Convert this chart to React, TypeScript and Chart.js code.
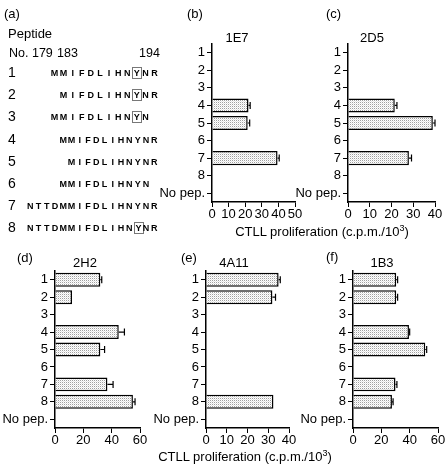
import React, { useEffect, useRef } from "react";
import { Chart, registerables } from "chart.js";
Chart.register(...registerables);

// ---------- data ----------
const categories = ["1", "2", "3", "4", "5", "6", "7", "8", "No pep."];

const values1E7 = [0, 0, 0, 22, 21.5, 0, 39.5, 0, 0];
const errors1E7 = [0, 0, 0, 1, 1.2, 0, 1, 0, 0];
const ticks1E7 = [0, 10, 20, 30, 40, 50];

const values2D5 = [0, 0, 0, 21.5, 39, 0, 28, 0, 0];
const errors2D5 = [0, 0, 0, 1, 1, 0, 1.2, 0, 0];
const ticks2D5 = [0, 10, 20, 30, 40];

const values2H2 = [32, 12, 0, 45, 32, 0, 37, 55, 0];
const errors2H2 = [1, 0, 0, 4, 3, 0, 4, 1.5, 0];
const ticks2H2 = [0, 20, 40, 60];

const values4A11 = [35, 32, 0, 0, 0, 0, 0, 32.5, 0];
const errors4A11 = [0.8, 1.5, 0, 0, 0, 0, 0, 0, 0];
const ticks4A11 = [0, 10, 20, 30, 40];

const values1B3 = [30.5, 30.5, 0, 39.5, 51, 0, 30, 27.5, 0];
const errors1B3 = [1, 1, 0, 0.5, 1, 0, 1, 0.8, 0];
const ticks1B3 = [0, 20, 40, 60];

const peptideNumbers = ["1", "2", "3", "4", "5", "6", "7", "8"];
const peptideSequences = [
  "MMIFDLIHN[Y]NR",
  "MIFDLIHN[Y]NR",
  "MMIFDLIHN[Y]N",
  "MMIFDLIHNYNR",
  "MIFDLIHNYNR",
  "MMIFDLIHNYN",
  "NTTDMMIFDLIHNYNR",
  "NTTDMMIFDLIHN[Y]NR",
];
const peptideStarts = [183, 184, 183, 183, 184, 183, 179, 179];
const residueLabels = ["No. 179", "183", "194"];
const axisTitle = "CTLL proliferation (c.p.m./10";
const axisTitleSup = "3";

// ---------- layout ----------
const W = 448;
const H = 464;
const FONT = "'Liberation Sans', Arial, Helvetica, sans-serif";
const Y_AXIS_W = 55;
const X_AXIS_H = 30;

const panels = [
  { label: "(b)", title: "1E7", values: values1E7, errors: errors1E7, ticks: ticks1E7,
    area: { left: 212, right: 295, top: 44, bottom: 202 }, labelPos: [187, 13], titlePos: [237, 37] },
  { label: "(c)", title: "2D5", values: values2D5, errors: errors2D5, ticks: ticks2D5,
    area: { left: 348, right: 435, top: 44, bottom: 202 }, labelPos: [326, 13], titlePos: [372, 37] },
  { label: "(d)", title: "2H2", values: values2H2, errors: errors2H2, ticks: ticks2H2,
    area: { left: 55, right: 140, top: 271, bottom: 428 }, labelPos: [17, 257], titlePos: [85, 262] },
  { label: "(e)", title: "4A11", values: values4A11, errors: errors4A11, ticks: ticks4A11,
    area: { left: 206, right: 289, top: 271, bottom: 428 }, labelPos: [181, 257], titlePos: [234, 262] },
  { label: "(f)", title: "1B3", values: values1B3, errors: errors1B3, ticks: ticks1B3,
    area: { left: 353, right: 438, top: 271, bottom: 428 }, labelPos: [326, 256], titlePos: [382, 262] },
];

function makeStipple(ctx: CanvasRenderingContext2D) {
  const c = document.createElement("canvas");
  c.width = 2;
  c.height = 2;
  const g = c.getContext("2d")!;
  g.fillStyle = "#ffffff";
  g.fillRect(0, 0, 2, 2);
  g.fillStyle = "#a0a0a0";
  g.fillRect(0, 0, 1, 1);
  g.fillStyle = "#e4e4e4";
  g.fillRect(1, 1, 1, 1);
  return ctx.createPattern(c, "repeat");
}

const errorBarPlugin = {
  id: "errorBars",
  afterDatasetsDraw(chart: any, _args: any, opts: any) {
    const errs: number[] = opts.errors || [];
    const meta = chart.getDatasetMeta(0);
    const xs = chart.scales.x;
    const data = chart.data.datasets[0].data;
    const ctx = chart.ctx;
    ctx.save();
    ctx.strokeStyle = "#000";
    ctx.lineWidth = 1.2;
    meta.data.forEach((bar: any, i: number) => {
      const e = errs[i];
      if (!e) return;
      const v = data[i];
      const x0 = xs.getPixelForValue(v);
      const x1 = xs.getPixelForValue(v + e);
      const y = bar.y;
      const h = 3.5;
      ctx.beginPath();
      ctx.moveTo(x0, y);
      ctx.lineTo(x1, y);
      ctx.moveTo(x1, y - h);
      ctx.lineTo(x1, y + h);
      ctx.stroke();
    });
    ctx.restore();
  },
};

function BarPanel({ values, errors, ticks, area }: any) {
  const ref = useRef<HTMLCanvasElement>(null);
  useEffect(() => {
    const canvas = ref.current!;
    const ctx = canvas.getContext("2d")!;
    const pattern = makeStipple(ctx);
    const chart = new Chart(canvas, {
      type: "bar",
      data: {
        labels: categories,
        datasets: [
          {
            data: values,
            backgroundColor: pattern as any,
            borderColor: "#000",
            borderWidth: 1.5,
            borderSkipped: "start",
            barPercentage: 0.8,
            categoryPercentage: 1,
          },
        ],
      },
      options: {
        indexAxis: "y",
        responsive: false,
        animation: false,
        devicePixelRatio: 1,
        layout: {
          padding: {
            left: area.left - Y_AXIS_W,
            right: W - area.right,
            top: area.top,
            bottom: H - area.bottom - X_AXIS_H,
          },
        },
        plugins: {
          legend: { display: false },
          tooltip: { enabled: false },
          title: { display: false },
          errorBars: { errors },
        } as any,
        scales: {
          x: {
            type: "linear",
            min: ticks[0],
            max: ticks[ticks.length - 1],
            ticks: {
              stepSize: ticks[1] - ticks[0],
              color: "#000",
              font: { family: FONT, size: 13 },
              padding: 0,
              maxRotation: 0,
              autoSkip: false,
            },
            grid: { drawOnChartArea: false, drawTicks: true, tickLength: 5, color: "#000", lineWidth: 1 },
            border: { display: true, color: "#000", width: 1.5 },
            afterFit: (s: any) => {
              s.height = X_AXIS_H;
            },
          },
          y: {
            type: "category",
            offset: true,
            ticks: { color: "#000", font: { family: FONT, size: 13 }, padding: 2, autoSkip: false },
            grid: { offset: false, drawOnChartArea: false, drawTicks: true, tickLength: 5, color: "#000", lineWidth: 1 },
            border: { display: true, color: "#000", width: 1.5 },
            afterFit: (s: any) => {
              s.width = Y_AXIS_W;
            },
          },
        },
      } as any,
      plugins: [errorBarPlugin],
    });
    return () => chart.destroy();
  }, []);
  return (
    <canvas
      ref={ref}
      width={W}
      height={H}
      style={{ position: "absolute", left: 0, top: 0, width: W, height: H }}
    />
  );
}

function Txt({ x, y, size = 13, center = false, bold = false, children }: any) {
  return (
    <div
      style={{
        position: "absolute",
        left: x,
        top: y,
        transform: center ? "translate(-50%, -50%)" : "translateY(-50%)",
        fontSize: size,
        fontWeight: bold ? "bold" : "normal",
        lineHeight: 1,
        whiteSpace: "nowrap",
        fontFamily: FONT,
        color: "#000",
      }}
    >
      {children}
    </div>
  );
}

function parseSeq(s: string) {
  const out: { ch: string; boxed: boolean }[] = [];
  let boxed = false;
  for (const c of s) {
    if (c === "[") boxed = true;
    else if (c === "]") boxed = false;
    else out.push({ ch: c, boxed });
  }
  return out;
}

function PeptideRow({ index }: { index: number }) {
  const y = 73 + index * 22.2;
  const wide = index < 3;
  const pitch = wide ? 9.1 : 8.27;
  const chars = parseSeq(peptideSequences[index]);
  const start = peptideStarts[index];
  return (
    <>
      <Txt x={8} y={y - 1} size={14}>
        {peptideNumbers[index]}
      </Txt>
      {chars.map((c, k) => {
        const pos = start + k;
        const left = wide ? 150 - (194 - pos) * pitch : 26 + (pos - 179) * pitch;
        return (
          <div
            key={k}
            style={{
              position: "absolute",
              left,
              top: y - 6,
              width: pitch,
              height: 12,
              lineHeight: "12px",
              textAlign: "center",
              fontFamily: FONT,
              fontWeight: "bold",
              fontSize: 9,
              color: "#000",
            }}
          >
            {c.boxed ? (
              <span
                style={{
                  display: "inline-block",
                  border: "1px solid #777",
                  lineHeight: "10px",
                  height: 10,
                  padding: "0 1px",
                }}
              >
                {c.ch}
              </span>
            ) : (
              c.ch
            )}
          </div>
        );
      })}
    </>
  );
}

export default function App() {
  return (
    <div
      style={{
        position: "absolute",
        left: 0,
        top: 0,
        width: W,
        height: H,
        background: "#fff",
        overflow: "hidden",
        fontFamily: FONT,
      }}
    >
      {panels.map((p, i) => (
        <BarPanel key={i} values={p.values} errors={p.errors} ticks={p.ticks} area={p.area} />
      ))}
      {/* panel (a) */}
      <Txt x={4} y={13}>(a)</Txt>
      <Txt x={8} y={33}>Peptide</Txt>
      <Txt x={9} y={53} size={12.5}>{residueLabels[0]}</Txt>
      <Txt x={57} y={53} size={12.5}>{residueLabels[1]}</Txt>
      <Txt x={139} y={53} size={12.5}>{residueLabels[2]}</Txt>
      {peptideSequences.map((_, i) => (
        <PeptideRow key={i} index={i} />
      ))}
      {panels.map((p, i) => (
        <React.Fragment key={"t" + i}>
          <Txt x={p.labelPos[0]} y={p.labelPos[1]}>{p.label}</Txt>
          <Txt x={p.titlePos[0]} y={p.titlePos[1]} center>
            {p.title}
          </Txt>
        </React.Fragment>
      ))}
      <Txt x={322} y={231} center>
        {axisTitle}
        <sup style={{ fontSize: 9 }}>{axisTitleSup}</sup>)
      </Txt>
      <Txt x={245} y={456} center>
        {axisTitle}
        <sup style={{ fontSize: 9 }}>{axisTitleSup}</sup>)
      </Txt>
    </div>
  );
}
